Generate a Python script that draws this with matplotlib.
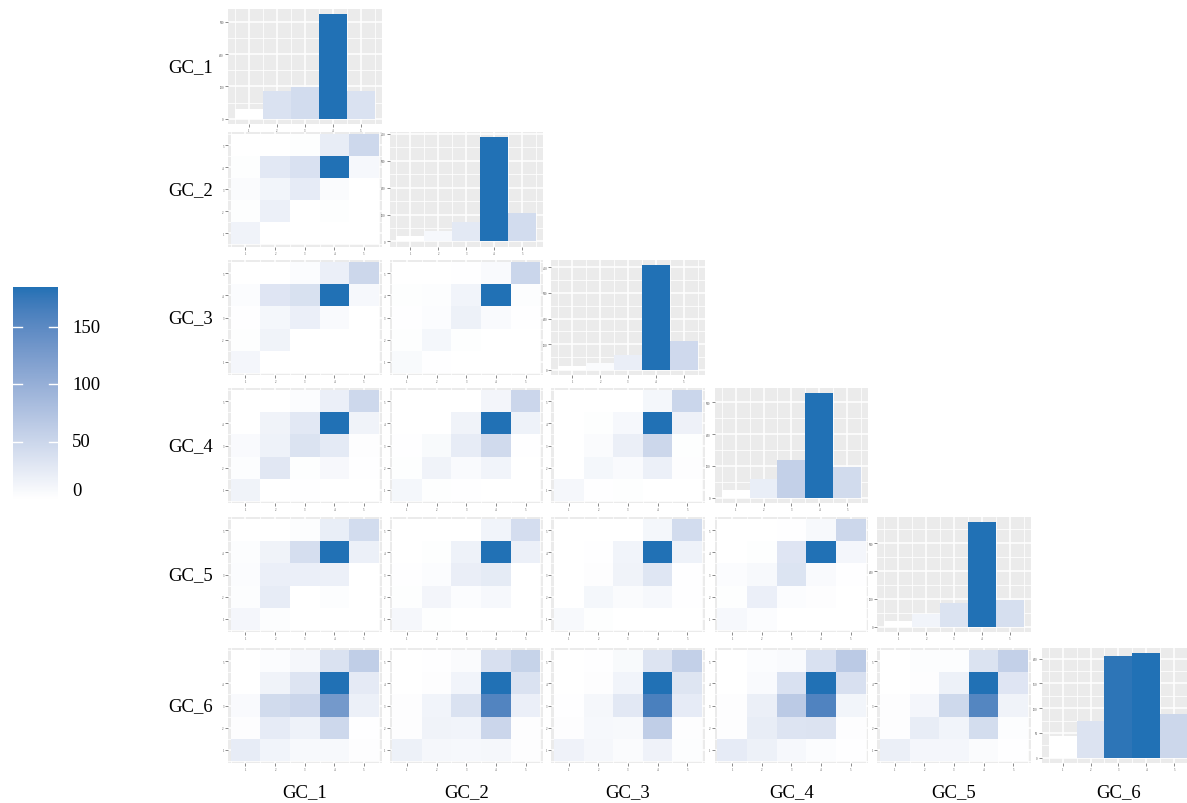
import numpy as np
import matplotlib
matplotlib.use("Agg")
import matplotlib.pyplot as plt
from matplotlib.colors import ListedColormap, Normalize
from matplotlib.ticker import MaxNLocator, AutoMinorLocator, FixedLocator

plt.rcParams["font.family"] = ["Liberation Serif", "DejaVu Serif"]

# ---------------------------------------------------------------- data
variables = ["GC_1", "GC_2", "GC_3", "GC_4", "GC_5", "GC_6"]
levels = [1, 2, 3, 4, 5]

# response counts per level (1..5) for each item
gc1_counts = [30, 87, 98, 323, 87]
gc2_counts = [20, 38, 74, 388, 105]
gc3_counts = [16, 28, 59, 408, 114]
gc4_counts = [23, 58, 119, 329, 96]
gc5_counts = [20, 46, 87, 376, 96]
gc6_counts = [44, 75, 206, 211, 89]

# joint counts: rows = level 1..5 of the row item, columns = level 1..5 of the column item
gc2_by_gc1 = [[22, 0, 1, 0, 0], [3, 28, 0, 3, 0], [8, 19, 36, 8, 0],
              [3, 42, 55, 277, 14], [0, 0, 3, 33, 72]]
gc3_by_gc1 = [[17, 0, 0, 0, 0], [3, 23, 0, 1, 0], [2, 16, 30, 10, 0],
              [6, 48, 57, 285, 14], [0, 0, 6, 30, 76]]
gc3_by_gc2 = [[13, 2, 1, 0, 0], [4, 20, 3, 0, 1], [2, 8, 35, 12, 2],
              [4, 7, 26, 365, 6], [0, 0, 2, 12, 100]]
gc4_by_gc1 = [[20, 0, 1, 0, 0], [4, 40, 2, 11, 1], [8, 22, 48, 36, 3],
              [0, 20, 38, 252, 20], [0, 0, 5, 26, 65]]
gc4_by_gc2 = [[16, 3, 2, 1, 1], [3, 23, 9, 20, 1], [2, 10, 36, 69, 2],
              [0, 0, 23, 282, 25], [0, 0, 1, 18, 77]]
gc4_by_gc3 = [[15, 2, 3, 1, 1], [0, 16, 9, 29, 4], [1, 7, 31, 77, 3],
              [0, 3, 14, 287, 26], [0, 0, 1, 16, 79]]
gc5_by_gc1 = [[16, 5, 0, 0, 0], [5, 34, 1, 5, 0], [6, 27, 27, 26, 1],
              [5, 21, 58, 264, 26], [0, 0, 5, 30, 61]]
gc5_by_gc2 = [[16, 3, 1, 0, 0], [3, 20, 7, 15, 1], [2, 7, 35, 42, 1],
              [0, 3, 28, 314, 31], [0, 0, 1, 24, 71]]
gc5_by_gc3 = [[13, 3, 1, 1, 1], [1, 18, 9, 16, 2], [1, 4, 26, 54, 2],
              [0, 2, 23, 326, 29], [0, 0, 1, 18, 77]]
gc5_by_gc4 = [[15, 6, 0, 0, 0], [3, 32, 6, 4, 1], [7, 13, 55, 10, 2],
              [0, 3, 52, 304, 18], [0, 0, 2, 13, 81]]
gc6_by_gc1 = [[19, 11, 6, 6, 2], [2, 20, 13, 39, 1], [5, 36, 41, 106, 15],
              [0, 12, 27, 151, 21], [0, 3, 8, 29, 49]]
gc6_by_gc2 = [[16, 9, 8, 9, 2], [2, 13, 12, 45, 2], [2, 12, 32, 141, 17],
              [0, 2, 12, 166, 32], [0, 1, 5, 34, 49]]
gc6_by_gc3 = [[14, 9, 4, 14, 3], [2, 8, 7, 55, 2], [1, 9, 26, 148, 22],
              [0, 2, 12, 168, 29], [0, 1, 6, 30, 52]]
gc6_by_gc4 = [[19, 14, 7, 3, 1], [2, 18, 26, 27, 2], [2, 16, 52, 126, 10],
              [0, 5, 29, 147, 30], [0, 3, 5, 29, 52]]
gc6_by_gc5 = [[18, 10, 10, 5, 1], [2, 20, 12, 38, 3], [2, 10, 42, 139, 13],
              [0, 2, 16, 165, 28], [0, 3, 3, 31, 52]]

legend_limits = (0, 185)
legend_ticks = [0, 50, 100, 150]

diag_counts = [gc1_counts, gc2_counts, gc3_counts, gc4_counts, gc5_counts, gc6_counts]
pair_counts = {
    (1, 0): gc2_by_gc1,
    (2, 0): gc3_by_gc1, (2, 1): gc3_by_gc2,
    (3, 0): gc4_by_gc1, (3, 1): gc4_by_gc2, (3, 2): gc4_by_gc3,
    (4, 0): gc5_by_gc1, (4, 1): gc5_by_gc2, (4, 2): gc5_by_gc3, (4, 3): gc5_by_gc4,
    (5, 0): gc6_by_gc1, (5, 1): gc6_by_gc2, (5, 2): gc6_by_gc3, (5, 3): gc6_by_gc4,
    (5, 4): gc6_by_gc5,
}

# ------------------------------------------------ white -> blue ramp in CIELAB
_M = np.array([[0.4124564, 0.3575761, 0.1804375],
               [0.2126729, 0.7151522, 0.0721750],
               [0.0193339, 0.1191920, 0.9503041]])
_WHITE = np.array([0.95047, 1.0, 1.08883])


def _srgb_to_lab(rgb):
    c = np.asarray(rgb, float)
    lin = np.where(c <= 0.04045, c / 12.92, ((c + 0.055) / 1.055) ** 2.4)
    xyz = _M @ lin / _WHITE
    d = 6 / 29
    f = np.where(xyz > d ** 3, np.cbrt(xyz), xyz / (3 * d * d) + 4 / 29)
    return np.array([116 * f[1] - 16, 500 * (f[0] - f[1]), 200 * (f[1] - f[2])])


def _lab_to_srgb(lab):
    L, a, b = lab
    fy = (L + 16) / 116
    f = np.array([fy + a / 500, fy, fy - b / 200])
    d = 6 / 29
    xyz = np.where(f > d, f ** 3, 3 * d * d * (f - 4 / 29)) * _WHITE
    lin = np.linalg.solve(_M, xyz)
    lin = np.clip(lin, 0, 1)
    c = np.where(lin <= 0.0031308, 12.92 * lin, 1.055 * lin ** (1 / 2.4) - 0.055)
    return np.clip(c, 0, 1)


low = _srgb_to_lab(matplotlib.colors.to_rgb("#FFFFFF"))
high = _srgb_to_lab(matplotlib.colors.to_rgb("#2171B5"))
ramp = [_lab_to_srgb(low + (high - low) * t) for t in np.linspace(0, 1, 256)]
cmap = ListedColormap(ramp)

# ----------------------------------------------------------------- layout
W, H = 1187, 804
fig = plt.figure(figsize=(W / 100, H / 100), dpi=100)

col_left = [228, 389.5, 551.3, 714.7, 877.3, 1041.7]
row_top = [10, 132.7, 261, 389, 518, 649]
pw, ph = 153.5, 115

PANEL_BG = "#EBEBEB"
TICK_KW = dict(labelsize=2.2, labelcolor="#4D4D4D", length=2, width=0.4,
               color="#333333", pad=1)


def panel(r, c):
    ax = fig.add_axes([col_left[c] / W, (H - row_top[r] - ph) / H, pw / W, ph / H])
    ax.set_facecolor(PANEL_BG)
    for s in ax.spines.values():
        s.set_visible(False)
    ax.set_axisbelow(True)
    ax.tick_params(axis="both", which="major", **TICK_KW)
    ax.tick_params(axis="both", which="minor", length=0)
    return ax


edges = np.arange(0.5, 6.0, 1.0)

for r in range(6):
    for c in range(r + 1):
        ax = panel(r, c)
        if r == c:
            counts = np.asarray(diag_counts[r], float)
            norm = Normalize(counts.min(), counts.max())
            ax.bar(levels, counts, width=1.0, color=cmap(norm(counts)),
                   linewidth=0, zorder=2)
            top = counts.max()
            ax.set_xlim(0.25, 5.75)
            ax.set_ylim(-0.05 * top, 1.05 * top)
            ax.yaxis.set_major_locator(MaxNLocator(nbins=5, steps=[1, 2, 5, 10]))
            ax.yaxis.set_minor_locator(AutoMinorLocator(2))
            ax.xaxis.set_major_locator(FixedLocator(levels))
            ax.xaxis.set_minor_locator(FixedLocator(edges))
        else:
            grid = np.asarray(pair_counts[(r, c)], float)
            norm = Normalize(grid.min(), grid.max())
            ax.pcolormesh(edges, edges, grid, cmap=cmap, norm=norm,
                          shading="flat", linewidth=0, zorder=2)
            ax.set_xlim(0.41, 5.59)
            ax.set_ylim(0.39, 5.61)
            ax.xaxis.set_major_locator(FixedLocator(levels))
            ax.yaxis.set_major_locator(FixedLocator(levels))
            ax.xaxis.set_minor_locator(FixedLocator(edges))
            ax.yaxis.set_minor_locator(FixedLocator(edges))
        ax.grid(True, which="major", color="white", linewidth=1.1, zorder=0)
        ax.grid(True, which="minor", color="white", linewidth=0.55, zorder=0)

        if c == 0:
            ax.text(-15 / pw, 0.5, variables[r], transform=ax.transAxes,
                    ha="right", va="center", fontsize=13.5, color="black")
        if r == 5:
            ax.text(0.5, -29 / ph, variables[c], transform=ax.transAxes,
                    ha="center", va="center", fontsize=13.5, color="black")

# ----------------------------------------------------------- colour legend
cax = fig.add_axes([13 / W, (H - 500) / H, 45 / W, 212 / H])
lo, hi = legend_limits
cax.imshow(np.linspace(lo, hi, 300)[:, None], aspect="auto", cmap=cmap,
           origin="lower", extent=(0, 1, lo, hi), vmin=lo, vmax=hi)
cax.set_xlim(0, 1)
cax.set_ylim(lo, hi)
cax.axis("off")
for v in legend_ticks:
    if v > lo:
        cax.plot([0, 0.2], [v, v], color="white", linewidth=1.0)
        cax.plot([0.8, 1], [v, v], color="white", linewidth=1.0)
    # keep the lowest label inside the bar's vertical extent
    label_y = max(v, lo + 0.04 * (hi - lo))
    cax.text(59 / 45, label_y, str(v), ha="left", va="center", fontsize=13.5,
             color="black", transform=cax.transData, clip_on=False)

fig.savefig("out.png", dpi=100)
